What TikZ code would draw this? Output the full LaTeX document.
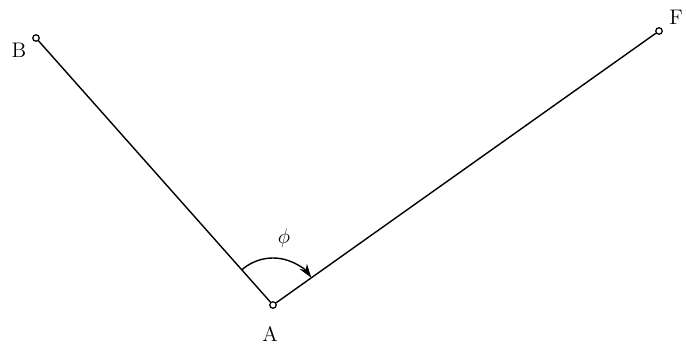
\documentclass[tikz,border=0pt]{standalone}
\usepackage{amsmath,amssymb}
\usetikzlibrary{arrows.meta,calc}

\begin{document}
\begin{tikzpicture}[
  >={Stealth[length=2.8mm,width=1.8mm]}, font=\large,
  pt/.style={circle, draw, fill=white, line width=0.7pt, inner sep=0pt, minimum size=1.3mm},
  ray/.style={line width=0.8pt},
  lab/.style={inner sep=1pt}]

\useasboundingbox (0,0) rectangle (13.72,6.86);

% stations
\node[pt] (A) at (5.46,0.76) {};
\node[pt] (B) at (0.72,6.10) {};
\node[pt] (F) at (13.18,6.24) {};

% labels
\node[lab] (lA) at (5.40,0.18) {A};
\node[lab] (lB) at (0.38,5.86) {B};
\node[lab] (lF) at (13.52,6.52) {F};

% rays
\draw[ray] (A) -- (B);
\draw[ray] (A) -- (F);

% angle
\coordinate (s) at ($(A)+(131.6:0.94)$);
\draw[->, line width=0.8pt] (s) arc[start angle=131.6, end angle=35.4, radius=0.94];
\node[lab] (phi) at (5.68,2.10) {$\phi$};

\end{tikzpicture}
\end{document}
